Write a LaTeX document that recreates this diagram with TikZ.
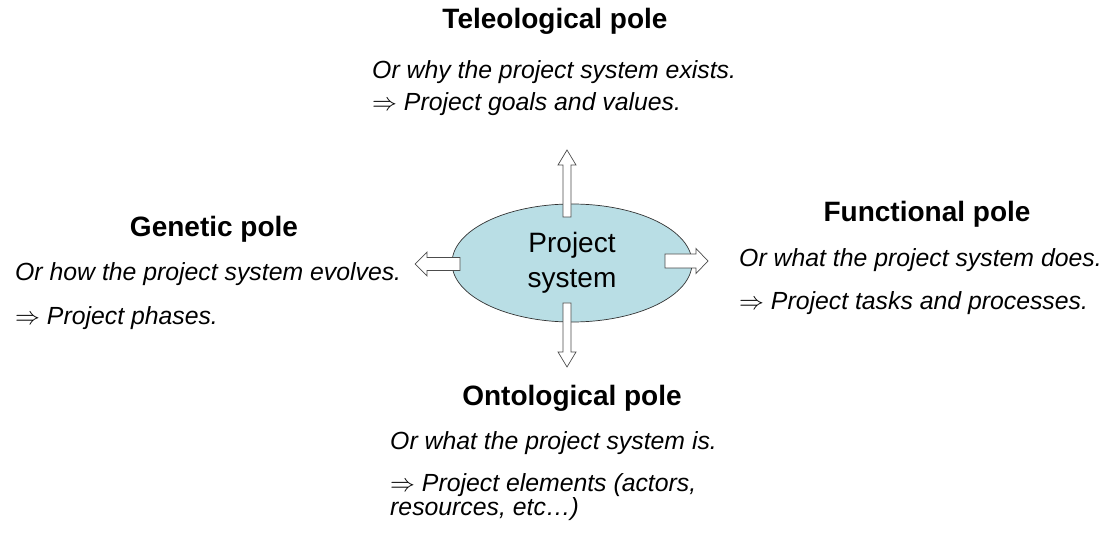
\documentclass[tikz,border=0pt]{standalone}
\usepackage{fontspec}
\setmainfont{Liberation Sans}
\usepackage{amsmath}
\usetikzlibrary{shapes.geometric,calc}

\definecolor{systemblue}{RGB}{185,222,229}

\begin{document}
\begin{tikzpicture}[x=1pt, y=-1pt,
    polehead/.style={font=\bfseries\fontsize{28}{32}\selectfont, inner sep=0pt, anchor=base},
    polenote/.style={font=\itshape\fontsize{24.8}{24}\selectfont, inner sep=0pt, anchor=base west, align=left},
    blockarrow/.style n args={3}{draw=black!70, fill=white, line width=0.7pt,
      to path={let \p1=($(\tikztotarget)!#3!(\tikztostart)$) in
        ($(\tikztostart)!#1!90:(\tikztotarget)$) -- ($(\p1)!#1!90:(\tikztotarget)$)
        -- ($(\p1)!#2!90:(\tikztotarget)$) -- (\tikztotarget)
        -- ($(\p1)!#2!-90:(\tikztotarget)$) -- ($(\p1)!#1!-90:(\tikztotarget)$)
        -- ($(\tikztostart)!#1!-90:(\tikztotarget)$) -- cycle}}]
    \useasboundingbox (0,0) rectangle (1110,534);

    % Draw the project system
    \node[ellipse, draw=black!80, line width=0.7pt, fill=systemblue, minimum width=240pt,
          minimum height=118pt, inner sep=0pt, align=center,
          font=\fontsize{28}{35}\selectfont] (sys) at (572,263) {Project\\system};

    % Arrow ends
    \coordinate (upFoot) at (567,217);
    \coordinate (upTip) at (567,150);
    \coordinate (downFoot) at (567,303);
    \coordinate (downTip) at (567,367);
    \coordinate (leftFoot) at (460,264);
    \coordinate (leftTip) at (415,264);
    \coordinate (rightFoot) at (665,261);
    \coordinate (rightTip) at (708,261);

    % Draw the arrows to the poles
    \draw[blockarrow={4pt}{9pt}{15pt}] (upFoot) to (upTip);
    \draw[blockarrow={4pt}{9pt}{15pt}] (downFoot) to (downTip);
    \draw[blockarrow={6.5pt}{12pt}{12pt}] (leftFoot) to (leftTip);
    \draw[blockarrow={7pt}{12.5pt}{12pt}] (rightFoot) to (rightTip);

    % Teleological pole
    \node[polehead] (tele) at (555,29) {Teleological pole};
    \node[polenote] (teleWhy) at (372,79) {Or why the project system exists.};
    \node[polenote] (teleGoal) at (372,111) {$\Rightarrow$ Project goals and values.};

    % Genetic pole
    \node[polehead] (gene) at (214,237) {Genetic pole};
    \node[polenote] (geneWhy) at (15,281) {Or how the project system evolves.};
    \node[polenote] (genePhase) at (15,324) {$\Rightarrow$ Project phases.};

    % Functional pole
    \node[polehead] (func) at (927,222) {Functional pole};
    \node[polenote] (funcWhy) at (739,267) {Or what the project system does.};
    \node[polenote] (funcTask) at (739,309) {$\Rightarrow$ Project tasks and processes.};

    % Ontological pole
    \node[polehead] (onto) at (572,405) {Ontological pole};
    \node[polenote] (ontoWhy) at (390,449) {Or what the project system is.};
    \node[polenote] (ontoElem) at (390,515) {$\Rightarrow$ Project elements (actors,\\resources, etc…)};
\end{tikzpicture}
\end{document}
